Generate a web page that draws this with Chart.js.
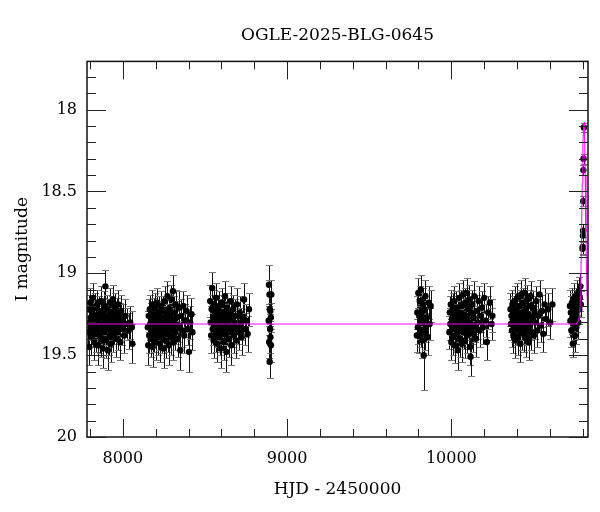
<!DOCTYPE html>
<html>
<head>
<meta charset="utf-8">
<title>OGLE-2025-BLG-0645</title>
<script src="https://cdn.jsdelivr.net/npm/chart.js@4.4.1/dist/chart.umd.min.js"></script>
<style>
  html, body { margin: 0; padding: 0; background: #fff; }
</style>
</head>
<body>
<canvas id="lc" width="600" height="512"></canvas>
<script>
// photometry, one array per observing season: [HJD-2450000, I mag, error]
const season2017 = [
  [7790,19.36,.10],[7793,19.22,.09],[7796,19.45,.11],[7799,19.30,.10],[7801,19.18,.09],[7804,19.33,.10],
  [7806,19.27,.10],[7809,19.39,.11],[7812,19.24,.09],[7815,19.31,.10],[7818,19.15,.09],[7821,19.35,.10],
  [7824,19.28,.10],[7827,19.42,.11],[7830,19.21,.09],[7833,19.33,.10],[7836,19.26,.10],[7839,19.37,.11],
  [7842,19.30,.10],[7845,19.19,.09],[7848,19.44,.12],[7851,19.29,.10],[7854,19.34,.10],[7857,19.23,.09],
  [7860,19.38,.11],[7863,19.31,.10],[7866,19.17,.09],[7869,19.40,.11],[7872,19.27,.10],[7875,19.33,.10],
  [7878,19.46,.12],[7881,19.25,.10],[7884,19.36,.10],[7887,19.20,.09],[7890,19.30,.10],[7894,19.08,.10],
  [7897,19.41,.11],[7900,19.28,.10],[7903,19.34,.10],[7906,19.22,.09],[7909,19.47,.12],[7912,19.32,.10],
  [7915,19.26,.10],[7918,19.39,.11],[7921,19.18,.09],[7924,19.35,.10],[7927,19.29,.10],[7930,19.43,.11],
  [7933,19.24,.10],[7936,19.31,.10],[7939,19.16,.09],[7942,19.37,.11],[7945,19.27,.10],[7948,19.33,.10],
  [7952,19.21,.09],[7956,19.40,.11],[7960,19.30,.10],[7964,19.25,.10],[7968,19.36,.11],[7972,19.19,.09],
  [7976,19.32,.10],[7980,19.28,.10],[7985,19.42,.11],[7990,19.23,.10],[7995,19.34,.10],[8000,19.29,.10],
  [8008,19.38,.11],[8016,19.26,.10],[8025,19.31,.10],[8035,19.35,.11],[8045,19.30,.10],[8055,19.33,.10],
  [8058,19.43,.12]
];
const season2018 = [
  [8152,19.33,.10],[8155,19.44,.12],[8158,19.26,.10],[8161,19.38,.11],[8164,19.22,.09],[8167,19.31,.10],
  [8170,19.40,.11],[8173,19.28,.10],[8176,19.35,.10],[8179,19.19,.09],[8182,19.45,.12],[8185,19.30,.10],
  [8188,19.25,.10],[8191,19.37,.11],[8194,19.21,.09],[8197,19.33,.10],[8200,19.42,.11],[8203,19.27,.10],
  [8206,19.32,.10],[8209,19.18,.09],[8212,19.39,.11],[8215,19.29,.10],[8218,19.24,.10],[8221,19.36,.11],
  [8224,19.31,.10],[8227,19.43,.11],[8230,19.20,.09],[8233,19.34,.10],[8236,19.27,.10],[8239,19.38,.11],
  [8242,19.23,.09],[8245,19.32,.10],[8248,19.46,.12],[8251,19.28,.10],[8254,19.17,.09],[8257,19.35,.10],
  [8260,19.30,.10],[8263,19.41,.11],[8266,19.25,.10],[8269,19.33,.10],[8272,19.14,.09],[8275,19.37,.11],
  [8278,19.29,.10],[8281,19.44,.12],[8284,19.22,.09],[8287,19.31,.10],[8290,19.26,.10],[8293,19.39,.11],
  [8296,19.16,.09],[8299,19.34,.10],[8302,19.28,.10],[8305,19.11,.10],[8308,19.42,.11],[8311,19.30,.10],
  [8314,19.24,.10],[8318,19.36,.11],[8322,19.19,.09],[8326,19.33,.10],[8330,19.27,.10],[8335,19.40,.11],
  [8340,19.21,.10],[8345,19.32,.10],[8350,19.47,.12],[8356,19.26,.10],[8362,19.35,.10],[8368,19.20,.09],
  [8374,19.38,.11],[8380,19.29,.10],[8388,19.23,.10],[8395,19.34,.10],[8403,19.48,.12],[8410,19.30,.10],
  [8418,19.25,.10],[8424,19.36,.11]
];
const season2019 = [
  [8532,19.17,.10],[8535,19.30,.10],[8538,19.38,.11],[8541,19.22,.09],[8544,19.09,.10],[8547,19.34,.10],
  [8550,19.27,.10],[8553,19.41,.11],[8556,19.19,.09],[8559,19.32,.10],[8562,19.25,.10],[8565,19.37,.11],
  [8568,19.15,.09],[8571,19.30,.10],[8574,19.43,.11],[8577,19.23,.10],[8580,19.35,.10],[8583,19.28,.10],
  [8586,19.20,.09],[8589,19.39,.11],[8592,19.31,.10],[8595,19.46,.12],[8598,19.26,.10],[8601,19.33,.10],
  [8604,19.18,.09],[8607,19.36,.11],[8610,19.29,.10],[8613,19.42,.11],[8616,19.24,.10],[8619,19.31,.10],
  [8622,19.14,.09],[8625,19.37,.11],[8628,19.27,.10],[8631,19.48,.12],[8634,19.21,.09],[8637,19.34,.10],
  [8640,19.29,.10],[8644,19.40,.11],[8648,19.25,.10],[8652,19.32,.10],[8656,19.17,.09],[8660,19.44,.12],
  [8664,19.28,.10],[8668,19.35,.10],[8672,19.22,.09],[8676,19.38,.11],[8680,19.30,.10],[8685,19.26,.10],
  [8690,19.41,.11],[8695,19.19,.10],[8700,19.33,.10],[8706,19.36,.11],[8712,19.24,.10],[8718,19.31,.10],
  [8724,19.39,.11],[8730,19.27,.10],[8738,19.16,.10],[8745,19.34,.10],[8752,19.29,.10],[8760,19.37,.11],
  [8768,19.22,.10]
];
const season2020 = [
  [8888,19.29,.09],[8890,19.07,.12],[8891,19.42,.10],[8893,19.13,.09],[8894,19.54,.10],[8895,19.22,.09],
  [8897,19.34,.09],[8898,19.23,.09],[8899,19.39,.10],[8901,19.27,.09],[8902,19.44,.10],[8904,19.13,.09]
];
const season2022 = [
  [9790,19.38,.10],[9793,19.24,.10],[9796,19.33,.10],[9799,19.12,.09],[9802,19.38,.11],[9805,19.26,.10],
  [9808,19.17,.09],[9811,19.30,.10],[9814,19.10,.09],[9817,19.35,.10],[9820,19.24,.10],[9823,19.41,.11],
  [9826,19.19,.10],[9829,19.29,.10],[9832,19.50,.21],[9835,19.22,.10],[9838,19.36,.11],[9842,19.14,.10],
  [9846,19.32,.10],[9850,19.27,.10],[9856,19.39,.11],[9862,19.18,.10],[9868,19.31,.10],[9874,19.20,.10]
];
const season2023 = [
  [9988,19.36,.10],[9991,19.24,.10],[9994,19.31,.10],[9997,19.19,.09],[10000,19.42,.11],[10003,19.28,.10],
  [10006,19.34,.10],[10009,19.22,.10],[10012,19.39,.11],[10015,19.30,.10],[10018,19.17,.09],[10021,19.44,.11],
  [10024,19.26,.10],[10027,19.33,.10],[10030,19.21,.10],[10033,19.37,.11],[10036,19.29,.10],[10039,19.47,.12],
  [10042,19.24,.10],[10045,19.32,.10],[10048,19.15,.09],[10051,19.40,.11],[10054,19.27,.10],[10057,19.35,.10],
  [10060,19.20,.10],[10063,19.43,.11],[10066,19.30,.10],[10069,19.25,.10],[10072,19.13,.09],[10075,19.36,.10],
  [10078,19.28,.10],[10081,19.41,.11],[10084,19.18,.09],[10087,19.33,.10],[10090,19.26,.10],[10093,19.12,.09],
  [10096,19.38,.11],[10099,19.29,.10],[10102,19.22,.10],[10105,19.35,.10],[10108,19.16,.09],[10111,19.31,.10],
  [10114,19.45,.11],[10117,19.51,.12],[10120,19.24,.10],[10124,19.33,.10],[10128,19.19,.09],[10132,19.37,.11],
  [10136,19.27,.10],[10140,19.14,.09],[10145,19.32,.10],[10150,19.40,.11],[10155,19.23,.10],[10160,19.30,.10],
  [10166,19.17,.09],[10172,19.35,.10],[10178,19.26,.10],[10185,19.21,.10],[10192,19.33,.10],[10200,19.15,.09],
  [10208,19.29,.10],[10216,19.42,.11],[10225,19.24,.10],[10234,19.18,.10],[10245,19.31,.10],[10250,19.26,.10]
];
const season2024 = [
  [10360,19.22,.10],[10363,19.31,.10],[10366,19.26,.10],[10369,19.35,.10],[10372,19.19,.09],[10375,19.29,.10],
  [10378,19.38,.11],[10381,19.24,.10],[10384,19.32,.10],[10387,19.17,.09],[10390,19.41,.11],[10393,19.27,.10],
  [10396,19.22,.10],[10399,19.34,.10],[10402,19.15,.09],[10405,19.30,.10],[10408,19.39,.11],[10411,19.25,.10],
  [10414,19.33,.10],[10417,19.20,.10],[10420,19.43,.11],[10423,19.28,.10],[10426,19.13,.09],[10429,19.36,.11],
  [10432,19.24,.10],[10435,19.31,.10],[10438,19.18,.09],[10441,19.37,.11],[10444,19.26,.10],[10447,19.12,.09],
  [10450,19.33,.10],[10453,19.22,.10],[10456,19.40,.11],[10459,19.29,.10],[10462,19.16,.09],[10465,19.34,.10],
  [10468,19.25,.10],[10472,19.42,.11],[10476,19.20,.10],[10480,19.31,.10],[10484,19.14,.09],[10488,19.36,.11],
  [10492,19.27,.10],[10497,19.21,.10],[10502,19.38,.11],[10507,19.24,.10],[10512,19.30,.10],[10518,19.17,.09],
  [10524,19.35,.10],[10530,19.26,.10],[10537,19.13,.09],[10544,19.32,.10],[10552,19.23,.10],[10560,19.37,.11],
  [10568,19.19,.10],[10578,19.28,.10],[10590,19.22,.10],[10602,19.30,.10],[10615,19.19,.10]
];
const season2025 = [
  [10722,19.20,.10],[10725,19.29,.10],[10728,19.24,.10],[10731,19.35,.10],[10734,19.18,.09],[10737,19.27,.10],
  [10740,19.43,.08],[10743,19.22,.10],[10746,19.31,.10],[10749,19.15,.09],[10752,19.38,.10],[10755,19.25,.10],
  [10758,19.20,.10],[10761,19.33,.10],[10764,19.13,.09],[10767,19.26,.10],[10770,19.18,.09],[10773,19.30,.10],
  [10776,19.11,.09],[10779,19.22,.09],[10782,19.15,.08],[10785,19.08,.08],[10788,19.19,.08],
  [10799,18.85,.04],[10800,18.84,.04],[10801,18.77,.04],[10802,18.74,.04],[10803,18.56,.03],[10804,18.37,.03],
  [10805,18.30,.03],[10807,18.11,.03]
];

// magenta model light curve: [HJD-2450000, I mag]
const modelCurve = [
  [7782,19.31],[10760,19.31],[10775,19.29],[10782,19.24],[10786,19.14],[10789,19.00],[10793,18.75],
  [10797,18.45],[10801,18.22],[10805,18.10],[10808,18.08],[10811,18.15],[10815,18.40],[10819,18.75],
  [10823,19.00],[10827,19.15],[10832,19.25]
];

// axis ranges and labelled ticks
const xRange = [7782, 10832];
const yRange = [17.706, 20.0];
const xLabels = [8000, 9000, 10000];
const yLabels = [18, 18.5, 19, 19.5, 20];
const xMinorStep = 200;
const yMinorStep = 0.1;

const allPoints = [].concat(season2017, season2018, season2019, season2020,
  season2022, season2023, season2024, season2025);

const serif = 'DejaVu Serif';

// error bars, drawn under the points
const errorBars = {
  id: 'errorBars',
  beforeDatasetsDraw(chart) {
    const ctx = chart.ctx;
    const ys = chart.scales.y;
    const meta = chart.getDatasetMeta(1);
    const ds = chart.data.datasets[1];
    const area = chart.chartArea;
    ctx.save();
    ctx.beginPath();
    ctx.rect(area.left, area.top, area.right - area.left, area.bottom - area.top);
    ctx.clip();
    meta.data.forEach((pt, i) => {
      const d = ds.data[i];
      const top = Math.round(ys.getPixelForValue(d.y - d.err)) + 0.5;
      const bot = Math.round(ys.getPixelForValue(d.y + d.err)) + 0.5;
      const x = Math.round(pt.x) + 0.5;
      ctx.strokeStyle = '#111';
      ctx.lineWidth = 1;
      ctx.beginPath();
      ctx.moveTo(x, top);
      ctx.lineTo(x, bot);
      ctx.stroke();
      ctx.strokeStyle = '#777';
      ctx.beginPath();
      ctx.moveTo(x - 3.5, top);
      ctx.lineTo(x + 3.5, top);
      ctx.moveTo(x - 3.5, bot);
      ctx.lineTo(x + 3.5, bot);
      ctx.stroke();
    });
    ctx.restore();
  }
};

// box around the plot with inward ticks on all four sides
const frameTicks = {
  id: 'frameTicks',
  afterDraw(chart) {
    const ctx = chart.ctx;
    const a = chart.chartArea;
    const xs = chart.scales.x, ys = chart.scales.y;
    ctx.save();
    ctx.strokeStyle = '#111';
    ctx.lineWidth = 1.5;
    ctx.strokeRect(a.left, a.top, a.right - a.left, a.bottom - a.top);
    ctx.lineWidth = 1;
    ctx.strokeStyle = '#222';
    ctx.beginPath();
    for (let v = Math.ceil(xRange[0] / xMinorStep) * xMinorStep; v <= xRange[1]; v += xMinorStep) {
      const px = Math.round(xs.getPixelForValue(v)) + 0.5;
      const len = v % 1000 === 0 ? 18 : 8;
      ctx.moveTo(px, a.bottom); ctx.lineTo(px, a.bottom - len);
      ctx.moveTo(px, a.top); ctx.lineTo(px, a.top + len);
    }
    for (let k = Math.ceil(yRange[0] / yMinorStep); k * yMinorStep <= yRange[1] + 1e-9; k++) {
      const v = k * yMinorStep;
      const py = Math.round(ys.getPixelForValue(v)) + 0.5;
      const len = k % 5 === 0 ? 19 : 9;
      ctx.moveTo(a.left, py); ctx.lineTo(a.left + len, py);
      ctx.moveTo(a.right, py); ctx.lineTo(a.right - len, py);
    }
    ctx.stroke();
    ctx.restore();
  }
};

new Chart(document.getElementById('lc'), {
  type: 'scatter',
  data: {
    datasets: [
      {
        label: 'model',
        data: modelCurve.map(p => ({ x: p[0], y: p[1] })),
        showLine: true,
        borderColor: '#f0f',
        borderWidth: 1,
        pointRadius: 0,
        tension: 0,
        order: 0
      },
      {
        label: 'OGLE I',
        data: allPoints.map(p => ({ x: p[0], y: p[1], err: p[2] })),
        backgroundColor: '#000',
        borderColor: '#000',
        borderWidth: 0,
        pointRadius: 3.2,
        order: 1
      }
    ]
  },
  options: {
    responsive: false,
    animation: false,
    events: [],
    layout: { padding: { right: 12 } },
    plugins: {
      legend: { display: false },
      tooltip: { enabled: false },
      title: {
        display: true,
        text: 'OGLE-2025-BLG-0645',
        fullSize: false,
        color: '#000',
        font: { family: serif, size: 17, weight: 'normal' },
        padding: { top: 25, bottom: 16 }
      }
    },
    scales: {
      x: {
        type: 'linear',
        min: xRange[0],
        max: xRange[1],
        grid: { display: false, drawTicks: false },
        border: { display: false },
        afterBuildTicks: s => { s.ticks = xLabels.map(v => ({ value: v })); },
        afterFit: s => { s.height = 75; },
        ticks: {
          color: '#000',
          padding: 12,
          maxRotation: 0,
          font: { family: serif, size: 16 },
          callback: v => String(v)
        },
        title: {
          display: true,
          text: 'HJD - 2450000',
          color: '#000',
          font: { family: serif, size: 17 },
          padding: { bottom: 12 }
        }
      },
      y: {
        type: 'linear',
        reverse: true,
        min: yRange[0],
        max: yRange[1],
        grid: { display: false, drawTicks: false },
        border: { display: false },
        afterBuildTicks: s => { s.ticks = yLabels.map(v => ({ value: v })); },
        afterFit: s => { s.width = 87; },
        ticks: {
          color: '#000',
          padding: 10,
          font: { family: serif, size: 16 },
          callback: v => String(v)
        },
        title: {
          display: true,
          text: 'I magnitude',
          color: '#000',
          font: { family: serif, size: 17 },
          padding: { top: 12 }
        }
      }
    }
  },
  plugins: [errorBars, frameTicks]
});
</script>
</body>
</html>
